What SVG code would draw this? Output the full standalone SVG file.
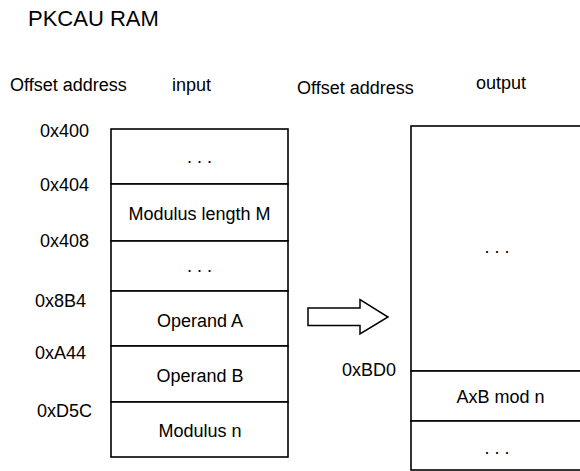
<svg xmlns="http://www.w3.org/2000/svg" width="580" height="471" viewBox="0 0 580 471">
<style>
text{font-family:"Liberation Sans",Arial,sans-serif;font-size:18px;fill:#000}
.c{text-anchor:middle}
.cell{fill:#fff;stroke:#000;stroke-width:1.6}
.title{font-size:22px}
</style>
<rect width="580" height="471" fill="#fff"/>
<g id="title"><text class="title" x="28" y="26">PKCAU RAM</text></g>
<g id="headers">
<text x="10" y="91">Offset address</text>
<text x="172" y="91">input</text>
<text x="297" y="94">Offset address</text>
<text x="476" y="89">output</text>
</g>
<g id="input-addresses">
<text x="40" y="137">0x400</text>
<text x="40" y="191">0x404</text>
<text x="40" y="247">0x408</text>
<text x="35" y="307">0x8B4</text>
<text x="35" y="359">0xA44</text>
<text x="37" y="417">0xD5C</text>
</g>
<g id="in-row1"><rect class="cell" x="111" y="129" width="177" height="55"/><text class="c" x="199.5" y="163">. . .</text></g>
<g id="in-row2"><rect class="cell" x="111" y="184" width="177" height="57"/><text class="c" x="199.5" y="220">Modulus length M</text></g>
<g id="in-row3"><rect class="cell" x="111" y="241" width="177" height="50"/><text class="c" x="199.5" y="272">. . .</text></g>
<g id="in-row4"><rect class="cell" x="111" y="291" width="177" height="55"/><text class="c" x="200" y="327">Operand A</text></g>
<g id="in-row5"><rect class="cell" x="111" y="346" width="177" height="56"/><text class="c" x="200" y="382">Operand B</text></g>
<g id="in-row6"><rect class="cell" x="111" y="402" width="177" height="55"/><text class="c" x="200" y="437">Modulus n</text></g>
<g id="output-addresses"><text x="342" y="376">0xBD0</text></g>
<g id="out-row1"><rect class="cell" x="411" y="126" width="177" height="245"/><text class="c" x="497" y="253">. . .</text></g>
<g id="out-row2"><rect class="cell" x="411" y="371" width="177" height="50"/><text class="c" x="500.5" y="403">AxB mod n</text></g>
<g id="out-row3"><rect class="cell" x="411" y="421" width="177" height="49"/><text class="c" x="497" y="454">. . .</text></g>
<g id="connectors">
<polygon points="308,308 360,308 360,299.5 388,317 360,334 360,325.5 308,325.5" fill="#fff" stroke="#000" stroke-width="1.5" stroke-linejoin="miter"/>
</g>
</svg>
